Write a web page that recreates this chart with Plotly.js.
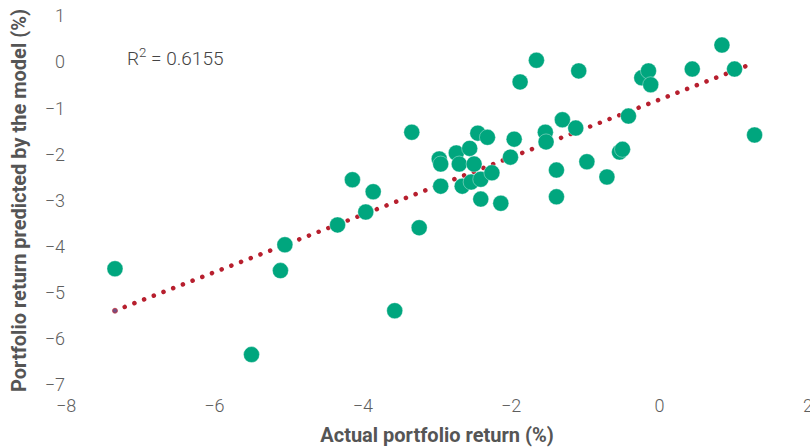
<!DOCTYPE html>
<html>
<head>
<meta charset="utf-8">
<script src="https://cdn.plot.ly/plotly-3.0.1.min.js"></script>
<style>html,body{margin:0;padding:0;background:#fff;}#chart{width:810px;height:447px;}</style>
</head>
<body>
<div id="chart"></div>
<script>
// Actual portfolio return (%)
const actualReturn = [
  -7.34, -5.50, -5.11, -5.05, -4.34, -4.14, -3.96, -3.86, -3.57, -3.34,
  -3.24, -2.97, -2.95, -2.95, -2.74, -2.70, -2.66, -2.56, -2.54, -2.50,
  -2.45, -2.41, -2.41, -2.32, -2.26, -2.14, -2.01, -1.96, -1.88, -1.66,
  -1.54, -1.53, -1.39, -1.39, -1.31, -1.13, -1.09, -0.98, -0.71, -0.54,
  -0.50, -0.42, -0.24, -0.15, -0.12, 0.44, 0.84, 1.01, 1.28
];
// Portfolio return predicted by the model (%)
const predictedReturn = [
  -4.48, -6.34, -4.52, -3.96, -3.53, -2.55, -3.25, -2.81, -5.39, -1.52,
  -3.59, -2.10, -2.21, -2.69, -1.97, -2.21, -2.69, -1.87, -2.60, -2.21,
  -1.54, -2.54, -2.97, -1.63, -2.40, -3.06, -2.06, -1.67, -0.43, 0.04,
  -1.52, -1.73, -2.34, -2.92, -1.25, -1.43, -0.19, -2.16, -2.49, -1.95,
  -1.89, -1.17, -0.34, -0.19, -0.49, -0.15, 0.37, -0.15, -1.58
];
// Linear trendline end points
const trendX = [-7.34, 1.19];
const trendY = [-5.39, -0.07];
const rSquaredText = 'R<sup>2</sup> = 0.6155';
const xTicks = [-8, -6, -4, -2, 0, 2];
const yTicks = [1, 0, -1, -2, -3, -4, -5, -6, -7];

const fontFam = 'Roboto, "DejaVu Sans", sans-serif';

const traces = [
  {
    x: trendX, y: trendY, type: 'scatter', mode: 'lines+markers',
    line: {color: '#b71f2e', width: 4.5, dash: '0.1px,10.3px'},
    marker: {size: [5, 0], color: '#5a64a8'},
    hoverinfo: 'skip', showlegend: false
  },
  {
    x: actualReturn, y: predictedReturn, type: 'scatter', mode: 'markers',
    marker: {size: 16, color: '#00a67e', line: {width: 0.6, color: 'rgba(255,255,255,0.6)'}},
    showlegend: false
  }
];

const tickFont = {size: 18, color: '#5e5e5e', family: fontFam, weight: 300};

const layout = {
  width: 810, height: 447,
  margin: {l: 66, r: 2, t: 16, b: 62},
  paper_bgcolor: '#fff', plot_bgcolor: '#fff',
  font: {family: fontFam, color: '#555', size: 16},
  xaxis: {
    range: [-8, 2], tickvals: xTicks, showgrid: false, zeroline: false, showline: false,
    ticks: '', tickfont: tickFont, ticklabeloverflow: 'allow', ticklabelstandoff: 8,
    title: {text: 'Actual portfolio return (%)', font: {size: 20, color: '#555', family: fontFam, weight: 'bold'}, standoff: 12}
  },
  yaxis: {
    range: [-7, 1], tickvals: yTicks, showgrid: false, zeroline: false, showline: false,
    ticks: '', tickfont: tickFont, ticklabeloverflow: 'allow',
    title: {text: 'Portfolio return predicted by the model (%)', font: {size: 20, color: '#555', family: fontFam, weight: 'bold'}, standoff: 12}
  },
  annotations: [{
    x: -7.2, y: 0.1, xref: 'x', yref: 'y', xanchor: 'left', yanchor: 'middle',
    text: rSquaredText, showarrow: false, font: {size: 19, color: '#444', family: fontFam, weight: 300}
  }]
};

Plotly.newPlot('chart', traces, layout, {staticPlot: true}).then(function(){
  document.querySelectorAll('.js-line').forEach(function(p){
    p.style.strokeLinecap = 'round';
  });
});
</script>
</body>
</html>
